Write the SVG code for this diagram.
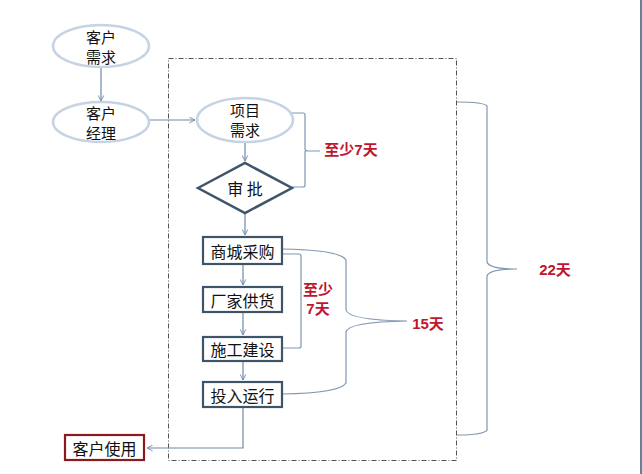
<svg xmlns="http://www.w3.org/2000/svg" width="642" height="474" viewBox="0 0 642 474">
<defs>
<marker id="arr" viewBox="0 0 10 10" refX="9" refY="5" markerWidth="7" markerHeight="7" orient="auto" markerUnits="userSpaceOnUse">
<path d="M1,1 L9,5 L1,9" fill="none" stroke="#6f8aa8" stroke-width="1.3"/>
</marker>
<style>
.t{font-family:"Noto Sans CJK SC","Liberation Sans",sans-serif;font-size:16px;fill:#111;text-anchor:middle;dominant-baseline:central}
.e{font-family:"Noto Sans CJK SC","Liberation Sans",sans-serif;font-size:15px;fill:#111;text-anchor:middle;dominant-baseline:central}
.r{font-family:"Liberation Sans","Noto Sans CJK SC",sans-serif;font-size:15px;font-weight:bold;fill:#c0152f;text-anchor:middle;dominant-baseline:central}
.ell{fill:#fff;stroke:#c6d3e4;stroke-width:2.5}
.box{fill:#fff;stroke:#3e5569;stroke-width:2.2}
.ln{fill:none;stroke:#6f8aa8;stroke-width:1.2}
.br{fill:none;stroke:#7f97b3;stroke-width:1.2}
</style>
</defs>
<rect width="642" height="474" fill="#fff"/>
<line x1="641" y1="0" x2="641" y2="474" stroke="#6a7f99" stroke-width="2"/>
<rect x="168.5" y="58.5" width="288" height="402" fill="none" stroke="#555" stroke-width="1" stroke-dasharray="5,2,1,2"/>
<g id="connectors">
<line class="ln" x1="101" y1="67" x2="101" y2="101" marker-end="url(#arr)"/>
<line class="ln" x1="150" y1="120" x2="195" y2="120" marker-end="url(#arr)"/>
<line class="ln" x1="245" y1="142" x2="245" y2="161" marker-end="url(#arr)"/>
<line class="ln" x1="245" y1="213" x2="245" y2="235" marker-end="url(#arr)"/>
<line class="ln" x1="243" y1="264" x2="243" y2="285" marker-end="url(#arr)"/>
<line class="ln" x1="243" y1="313" x2="243" y2="335" marker-end="url(#arr)"/>
<line class="ln" x1="243" y1="361" x2="243" y2="380" marker-end="url(#arr)"/>
<polyline class="ln" points="243,408 243,448 147,448" marker-end="url(#arr)"/>
<path class="br" d="M292,113 H303 Q305,113 305,115 V149 Q305,151 308,151 H320 M305,151 Q305,153 305,155 V185 Q305,187 303,187 H292"/>
<path class="br" d="M282,254 H299 Q301,254 301,256 V346 Q301,348 299,348 H282"/>
<path class="br" d="M282,249 Q340,250 346,260 V310 Q348,320 407,321 Q348,322 346,332 V383 Q340,393 282,394"/>
<path class="br" d="M457,102 Q484,102 487,106 V262 Q489,269 517,269 Q489,269 487,276 V430 Q484,435 457,435"/>
</g>
<g id="n1"><ellipse class="ell" cx="101" cy="46" rx="48" ry="21"/><text class="e" x="101" y="36">客户</text><text class="e" x="101" y="56">需求</text></g>
<g id="n2"><ellipse class="ell" cx="101" cy="122" rx="48" ry="20"/><text class="e" x="101" y="112">客户</text><text class="e" x="101" y="132">经理</text></g>
<g id="n3"><ellipse class="ell" cx="245" cy="120" rx="48" ry="22"/><text class="e" x="245" y="109">项目</text><text class="e" x="245" y="129">需求</text></g>
<g id="n4"><polygon points="198,188 245,163 292,188 245,213" fill="#fff" stroke="#3e5569" stroke-width="2.5"/><text class="t" x="245" y="188">审 批</text></g>
<g id="n5"><rect class="box" x="203" y="237" width="79" height="27"/><text class="t" x="242.5" y="250.5">商城采购</text></g>
<g id="n6"><rect class="box" x="203" y="287" width="79" height="25"/><text class="t" x="242.5" y="299.5">厂家供货</text></g>
<g id="n7"><rect class="box" x="203" y="337" width="79" height="24"/><text class="t" x="242.5" y="349">施工建设</text></g>
<g id="n8"><rect class="box" x="203" y="382" width="79" height="25"/><text class="t" x="242.5" y="394.5">投入运行</text></g>
<g id="n9"><rect x="65" y="435" width="79" height="25" fill="#fff" stroke="#8b1a1f" stroke-width="2.2"/><text class="t" x="104.5" y="447.5">客户使用</text></g>
<g id="labels">
<text class="r" x="351" y="149">至少7天</text>
<text class="r" x="318" y="289">至少</text>
<text class="r" x="318" y="308">7天</text>
<text class="r" x="428" y="323">15天</text>
<text class="r" x="555" y="269">22天</text>
</g>
</svg>
